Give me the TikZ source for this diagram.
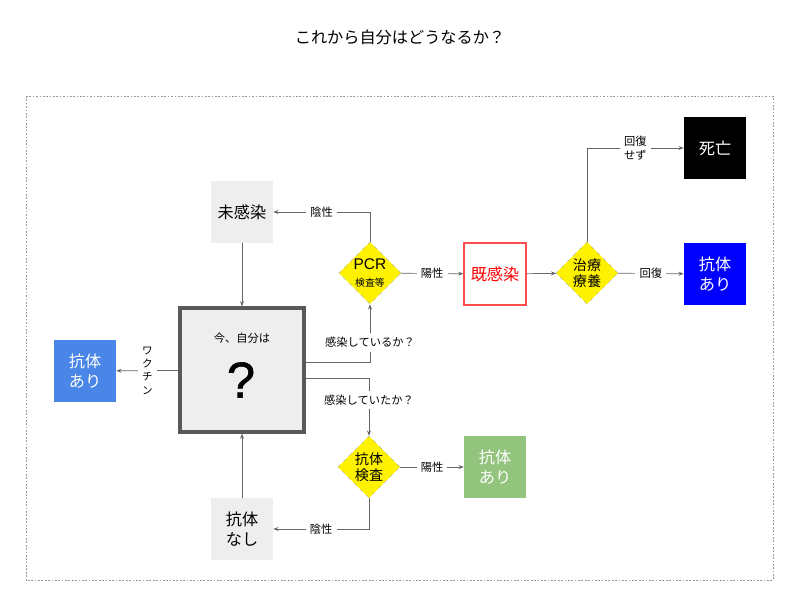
\documentclass[tikz,border=0pt]{standalone}
\usepackage{fontspec}
\setmainfont{Noto Sans CJK JP}
\newfontfamily\arialfont{Liberation Sans}
\newfontfamily\hatenafont[FakeBold=1.2]{Liberation Sans}
\usepackage{xcolor}
\usetikzlibrary{arrows.meta, positioning, shapes.geometric}
\definecolor{hai}{HTML}{EEEEEE}
\definecolor{aoA}{HTML}{4A86E8}
\definecolor{aoB}{HTML}{0000FF}
\definecolor{midori}{HTML}{93C47D}
\begin{document}
\begin{tikzpicture}[
    x=0.025cm, y=-0.025cm,
    font=\fontsize{8}{9.5}\selectfont,
    hako/.style={minimum width=1.55cm, minimum height=1.55cm, inner sep=0pt,
                 align=center, font=\fontsize{11.5}{14.5}\selectfont},
    hishi/.style={diamond, draw=yellow!60!black!60, dashed, fill=yellow, inner sep=0pt,
                  minimum width=1.55cm, minimum height=1.55cm, align=center,
                  font=\fontsize{10}{11.5}\selectfont},
    yaji/.style={-{Stealth[length=1.3mm, width=1mm]}, draw=black!60, line width=0.5pt},
    raberu/.style={fill=white, inner sep=3pt, align=center}
  ]
    \useasboundingbox (0,0) rectangle (800,600);
    \draw[black!40, line width=0.6pt, dash pattern=on 1.2pt off 1.2pt] (26,96) rectangle (773,580);
    \node[font=\fontsize{11.5}{14}\selectfont] (midashi) at (400,37) {これから自分はどうなるか？};

    \node[hako, fill=hai] (mikansen) at (242,212) {未感染};
    \node[hako, fill=hai, draw=black!65, line width=2.2pt, minimum width=3.1cm, minimum height=3.1cm] (jibun) at (242,370) {};
    \node (ima) at (242,338) {今、自分は};
    \node[font=\hatenafont\fontsize{36}{40}\selectfont] (hatena) at (241,380) {?};
    \node[hako, fill=aoA, text=white] (koutaiA) at (85,371) {抗体\\あり};
    \node[hako, fill=hai] (koutainashi) at (242,529) {抗体\\なし};
    \node[hishi] (pcr) at (370,273) {{\arialfont\fontsize{11}{11.5}\selectfont PCR}\\{\fontsize{7}{8}\selectfont 検査等}};
    \node[hako, fill=white, draw=red!70, line width=0.8pt, text=red] (kikansen) at (495,274) {既感染};
    \node[hishi] (chiryou) at (587,273) {治療\\療養};
    \node[hako, fill=black, text=white] (shibou) at (715,148) {死亡};
    \node[hako, fill=aoB, text=white] (koutaiB) at (715,274) {抗体\\あり};
    \node[hishi] (kensa) at (369,467) {抗体\\検査};
    \node[hako, fill=midori, text=white] (koutaiC) at (495,467) {抗体\\あり};

    \draw[yaji] (mikansen) -- (jibun);
    \draw[yaji] (koutainashi) -- (jibun);
    \draw[yaji] (jibun) -- node[raberu, font=\fontsize{7.5}{9.5}\selectfont] {ワ\\ク\\チ\\ン} (koutaiA);
    \draw[yaji] ([yshift=0.2cm]jibun.east) -| node[raberu, pos=0.67] {感染しているか？} (pcr.south);
    \draw[yaji] ([yshift=-0.2cm]jibun.east) -| node[raberu, pos=0.69] {感染していたか？} (kensa.north);
    \draw[yaji] (pcr.north) |- node[raberu, pos=0.75] {陰性} (mikansen.east);
    \draw[yaji] (pcr) -- node[raberu] {陽性} (kikansen);
    \draw[yaji] (kikansen) -- (chiryou);
    \draw[yaji] (chiryou.north) |- node[raberu, pos=0.75] {回復\\せず} (shibou.west);
    \draw[yaji] (chiryou) -- node[raberu] {回復} (koutaiB);
    \draw[yaji] (kensa) -- node[raberu] {陽性} (koutaiC);
    \draw[yaji] (kensa.south) |- node[raberu, pos=0.75] {陰性} (koutainashi.east);
  \end{tikzpicture}
\end{document}
